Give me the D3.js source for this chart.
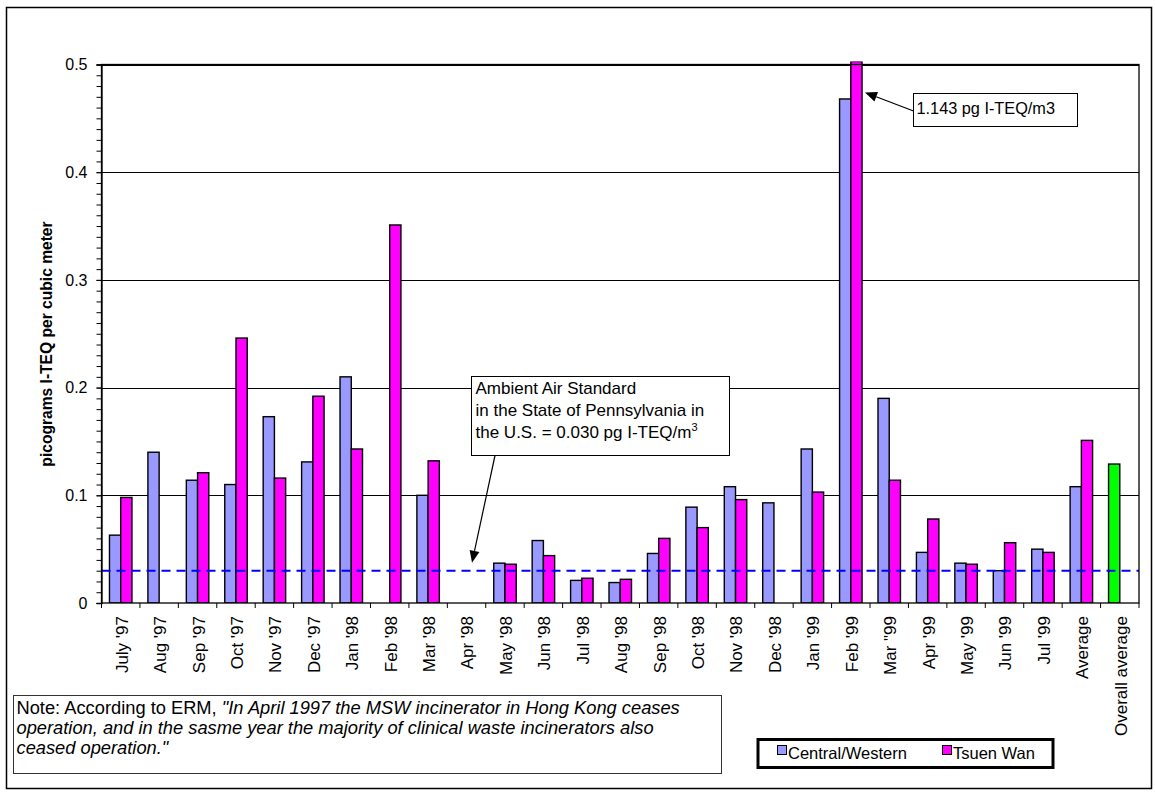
<!DOCTYPE html>
<html>
<head>
<meta charset="utf-8">
<script src="https://cdn.jsdelivr.net/npm/d3@7"></script>
<style>
  html, body { margin: 0; padding: 0; background: #fff; }
  svg { display: block; font-family: "Liberation Sans", Arial, sans-serif; }
</style>
</head>
<body>
<svg id="chart" width="1155" height="792"></svg>
<script>
// Monthly dioxin readings (pg I-TEQ per cubic metre) at two monitoring stations
const categories = [
  "July '97", "Aug '97", "Sep '97", "Oct '97", "Nov '97", "Dec '97",
  "Jan '98", "Feb '98", "Mar '98", "Apr '98", "May '98", "Jun '98",
  "Jul '98", "Aug '98", "Sep '98", "Oct '98", "Nov '98", "Dec '98",
  "Jan '99", "Feb '99", "Mar \"99", "Apr '99", "May '99", "Jun '99",
  "Jul '99", "Average", "Overall average"
];
const centralWestern = [
  0.063, 0.140, 0.114, 0.110, 0.173, 0.131,
  0.210, null, 0.100, null, 0.037, 0.058,
  0.021, 0.019, 0.046, 0.089, 0.108, 0.093,
  0.143, 0.468, 0.190, 0.047, 0.037, 0.030,
  0.050, 0.108, null
];
const tsuenWan = [
  0.098, null, 0.121, 0.246, 0.116, 0.192,
  0.143, 0.351, 0.132, null, 0.036, 0.044,
  0.023, 0.022, 0.060, 0.070, 0.096, null,
  0.103, 1.143, 0.114, 0.078, 0.036, 0.056,
  0.047, 0.151, null
];
const overallAverage = { category: "Overall average", value: 0.129 };
const standardValue = 0.030;
const yTicks = [0, 0.1, 0.2, 0.3, 0.4, 0.5];
const seriesNames = ["Central/Western", "Tsuen Wan"];
const seriesColors = ["#9999FF", "#FF00FF"];
const overallColor = "#00FF00";

const svg = d3.select("#chart");
const plotLeft = 101.5, plotRight = 1139, plotTop = 64.5, plotBottom = 603;

// Outer chart frame
svg.append("rect").attr("x", 6.5).attr("y", 7.5).attr("width", 1145).attr("height", 781)
  .attr("fill", "#fff").attr("stroke", "#000").attr("stroke-width", 1.5);

const y = d3.scaleLinear().domain([0, 0.5]).range([plotBottom, plotTop]);
const x = d3.scaleBand().domain(categories).range([plotLeft, plotRight]).paddingInner(0).paddingOuter(0);
const xs = d3.scaleBand().domain(seriesNames).range([0, x.bandwidth()]).paddingInner(0).paddingOuter(0.71);

// Plot area background + gridlines
svg.append("rect").attr("x", plotLeft).attr("y", plotTop).attr("width", plotRight - plotLeft)
  .attr("height", plotBottom - plotTop).attr("fill", "#fff");
svg.append("g").selectAll("line").data(yTicks.filter(d => d > 0)).join("line")
  .attr("x1", plotLeft).attr("x2", plotRight)
  .attr("y1", d => Math.round(y(d)) + 0.5).attr("y2", d => Math.round(y(d)) + 0.5)
  .attr("stroke", "#000").attr("stroke-width", 1);

// Clip so that out-of-range bars are cut at the top of the plot
svg.append("defs").append("clipPath").attr("id", "plotClip")
  .append("rect").attr("x", plotLeft).attr("y", plotTop - 3)
  .attr("width", plotRight - plotLeft).attr("height", plotBottom - plotTop + 3);

const barData = [];
categories.forEach((c, i) => {
  if (centralWestern[i] != null) barData.push({ c, s: seriesNames[0], v: centralWestern[i], fill: seriesColors[0] });
  if (tsuenWan[i] != null) barData.push({ c, s: seriesNames[1], v: tsuenWan[i], fill: seriesColors[1] });
});
barData.push({ c: overallAverage.category, s: seriesNames[0], v: overallAverage.value, fill: overallColor });

const yClip = d => Math.max(y(d), plotTop - 3);
svg.append("g").attr("clip-path", "url(#plotClip)")
  .selectAll("rect").data(barData).join("rect")
  .attr("x", d => x(d.c) + xs(d.s))
  .attr("y", d => yClip(d.v))
  .attr("width", xs.bandwidth())
  .attr("height", d => y(0) - yClip(d.v))
  .attr("fill", d => d.fill)
  .attr("stroke", "#000").attr("stroke-width", 1.4);

// Ambient air standard reference line
svg.append("line")
  .attr("x1", plotLeft).attr("x2", plotRight)
  .attr("y1", y(standardValue)).attr("y2", y(standardValue))
  .attr("stroke", "#0000FF").attr("stroke-width", 2).attr("stroke-dasharray", "9,6");

// Plot border
svg.append("rect").attr("x", plotLeft).attr("y", plotTop).attr("width", plotRight - plotLeft)
  .attr("height", plotBottom - plotTop)
  .attr("fill", "none").attr("stroke", "#000").attr("stroke-width", 1.3);

// Y axis: major labels plus minor ticks every 0.01
const yAxis = d3.axisLeft(y).tickValues(yTicks).tickSize(5).tickPadding(9)
  .tickFormat(d => d === 0 ? "0" : d3.format(".1f")(d));
const gy = svg.append("g").attr("transform", `translate(${plotLeft},0)`).call(yAxis);
gy.select(".domain").attr("stroke", "#000").attr("stroke-width", 1.3);
gy.selectAll("text").attr("font-size", 16).attr("fill", "#000")
  .attr("font-family", "'Liberation Sans', Arial, sans-serif");
const minor = d3.range(0, 51).map(k => k / 100);
svg.append("g").attr("transform", `translate(${plotLeft},0)`)
  .call(d3.axisLeft(y).tickValues(minor).tickSize(5).tickFormat(""))
  .call(g => g.select(".domain").remove());

// X axis: ticks on category boundaries, rotated labels
const bounds = categories.map(c => x(c)).concat([plotRight]);
svg.append("g").selectAll("line").data(bounds).join("line")
  .attr("x1", d => d).attr("x2", d => d)
  .attr("y1", plotBottom).attr("y2", plotBottom + 5)
  .attr("stroke", "#000").attr("stroke-width", 1);
svg.append("g").selectAll("text").data(categories).join("text")
  .attr("transform", c => `translate(${x(c) + x.bandwidth() / 2 + 1},${plotBottom + 13}) rotate(-90)`)
  .attr("text-anchor", "end").attr("dy", "0.35em")
  .attr("font-size", 17).attr("fill", "#000")
  .text(c => c);

// Y axis title
svg.append("text")
  .attr("transform", `translate(52,344) rotate(-90)`)
  .attr("text-anchor", "middle").attr("font-size", 15.6).attr("font-weight", "bold")
  .text("picograms I-TEQ per cubic meter");

// Arrow helper
function arrow(x1, y1, x2, y2) {
  const ang = Math.atan2(y2 - y1, x2 - x1), L = 12, Wd = 5;
  const bx = x2 - L * Math.cos(ang), by = y2 - L * Math.sin(ang);
  svg.append("line").attr("x1", x1).attr("y1", y1).attr("x2", bx).attr("y2", by)
    .attr("stroke", "#000").attr("stroke-width", 1.2);
  const p = [[x2, y2],
    [bx + Wd * Math.sin(ang), by - Wd * Math.cos(ang)],
    [bx - Wd * Math.sin(ang), by + Wd * Math.cos(ang)]];
  svg.append("polygon").attr("points", p.map(q => q.join(",")).join(" ")).attr("fill", "#000");
}

// Standard annotation
const aBox = { x: 471.5, y: 376.5, w: 258, h: 79 };
svg.append("rect").attr("x", aBox.x).attr("y", aBox.y).attr("width", aBox.w).attr("height", aBox.h)
  .attr("fill", "#fff").attr("stroke", "#000").attr("stroke-width", 1);
const aText = svg.append("text").attr("font-size", 17).attr("fill", "#000");
aText.append("tspan").attr("x", aBox.x + 4).attr("y", aBox.y + 17).text("Ambient Air Standard");
aText.append("tspan").attr("x", aBox.x + 4).attr("y", aBox.y + 39).text("in the State of Pennsylvania in");
aText.append("tspan").attr("x", aBox.x + 4).attr("y", aBox.y + 61).text("the U.S. = 0.030 pg I-TEQ/m");
aText.append("tspan").attr("dy", -7).attr("font-size", 11).text("3");
arrow(495, aBox.y + aBox.h, 472, y(standardValue) - 8);

// Peak value annotation
const pBox = { x: 913.5, y: 93.5, w: 164, h: 33 };
svg.append("rect").attr("x", pBox.x).attr("y", pBox.y).attr("width", pBox.w).attr("height", pBox.h)
  .attr("fill", "#fff").attr("stroke", "#000").attr("stroke-width", 1);
svg.append("text").attr("x", pBox.x + 3).attr("y", pBox.y + 20).attr("font-size", 16.3)
  .text(`${d3.format(".3f")(tsuenWan[19])} pg I-TEQ/m3`);
arrow(pBox.x, 111, 865, 92.5);

// Note box
const nBox = { x: 13.5, y: 695.5, w: 708, h: 78 };
svg.append("rect").attr("x", nBox.x).attr("y", nBox.y).attr("width", nBox.w).attr("height", nBox.h)
  .attr("fill", "#fff").attr("stroke", "#333").attr("stroke-width", 1);
const nText = svg.append("text").attr("font-size", 18.3).attr("fill", "#000");
const n1 = nText.append("tspan").attr("x", nBox.x + 3).attr("y", nBox.y + 18);
n1.append("tspan").text("Note: According to ERM, ");
n1.append("tspan").attr("font-style", "italic").text("\"In April 1997 the MSW incinerator in Hong Kong ceases");
nText.append("tspan").attr("x", nBox.x + 3).attr("y", nBox.y + 38).attr("font-style", "italic")
  .text("operation, and in the sasme year the majority of clinical waste incinerators also");
nText.append("tspan").attr("x", nBox.x + 3).attr("y", nBox.y + 58).attr("font-style", "italic")
  .text("ceased operation.\"");

// Legend
const lg = svg.append("g");
lg.append("rect").attr("x", 758).attr("y", 739.5).attr("width", 295).attr("height", 28)
  .attr("fill", "#fff").attr("stroke", "#000").attr("stroke-width", 3);
const legendX = [777, 942];
seriesNames.forEach((name, i) => {
  lg.append("rect").attr("x", legendX[i] + 0.5).attr("y", 745.5).attr("width", 9).attr("height", 9)
    .attr("fill", seriesColors[i]).attr("stroke", "#000").attr("stroke-width", 1);
  lg.append("text").attr("x", legendX[i] + 11).attr("y", 759).attr("font-size", 16.5).text(name);
});
</script>
</body>
</html>
